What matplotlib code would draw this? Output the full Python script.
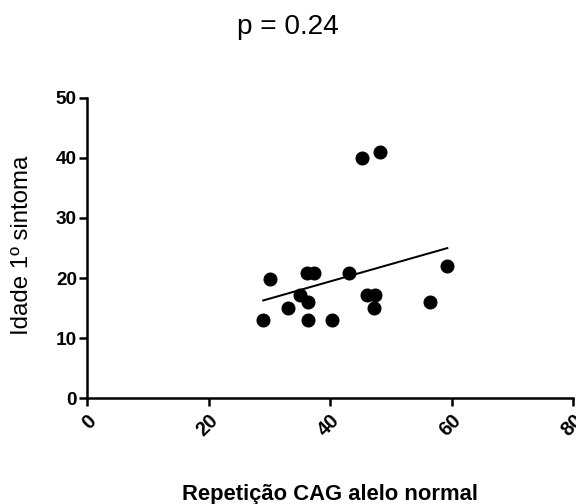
import numpy as np
import matplotlib
matplotlib.use("Agg")
import matplotlib.pyplot as plt
from matplotlib.transforms import ScaledTranslation

cag = [29.0, 30.1, 33.1, 35.1, 36.4, 36.3, 36.2, 37.4, 40.3, 43.2, 45.2, 48.3, 46.0, 47.4, 47.2, 56.4, 59.3]
idade = [13.0, 19.9, 15.0, 17.2, 16.0, 13.0, 20.9, 20.9, 13.0, 20.9, 39.9, 40.9, 17.2, 17.2, 15.0, 16.0, 22.0]
xticks = [0, 20, 40, 60, 80]
yticks = [0, 10, 20, 30, 40, 50]

plt.rcParams['font.family'] = ['Liberation Sans', 'DejaVu Sans']
fig = plt.figure(figsize=(8, 7), dpi=72)
ax = fig.add_axes([0.151, 0.210, 0.844, 0.596])
x = np.array(cag); y = np.array(idade)
ax.plot(x, y, 'o', color='black', markersize=13, zorder=3)
b, a = np.polyfit(x, y, 1)
xl = np.array([x.min(), x.max()])
ax.plot(xl, a + b * xl, color='black', lw=2)
ax.set_xlim(0, 80); ax.set_ylim(0, 50)
ax.set_xticks(xticks); ax.set_yticks(yticks)
ax.set_xticklabels([str(t) for t in xticks], rotation=45, ha='right', va='top',
                   fontweight='bold', fontsize=20, rotation_mode='anchor')
off = ScaledTranslation(-4 / 72, -3 / 72, fig.dpi_scale_trans)
for lab in ax.get_xticklabels():
    lab.set_transform(lab.get_transform() + off)
ax.set_yticklabels([str(t) for t in yticks], fontweight='bold', fontsize=19)
for s in ['top', 'right']:
    ax.spines[s].set_visible(False)
for s in ['left', 'bottom']:
    ax.spines[s].set_linewidth(2.5)
ax.tick_params(width=2.5, length=8, direction='out', pad=2)
ax.tick_params(axis='x', pad=5)
ax.set_ylabel('Idade 1º sintoma', fontsize=24, va='center')
ax.yaxis.set_label_coords(-65 / 486, 0.51)
ax.set_xlabel('Repetição CAG alelo normal', fontsize=22, fontweight='bold', va='center')
ax.xaxis.set_label_coords(0.5, -0.32)
fig.text(0.5, 1 - 27 / 504, 'p = 0.24', ha='center', va='center', fontsize=28)
fig.savefig('out.png', dpi=72)
